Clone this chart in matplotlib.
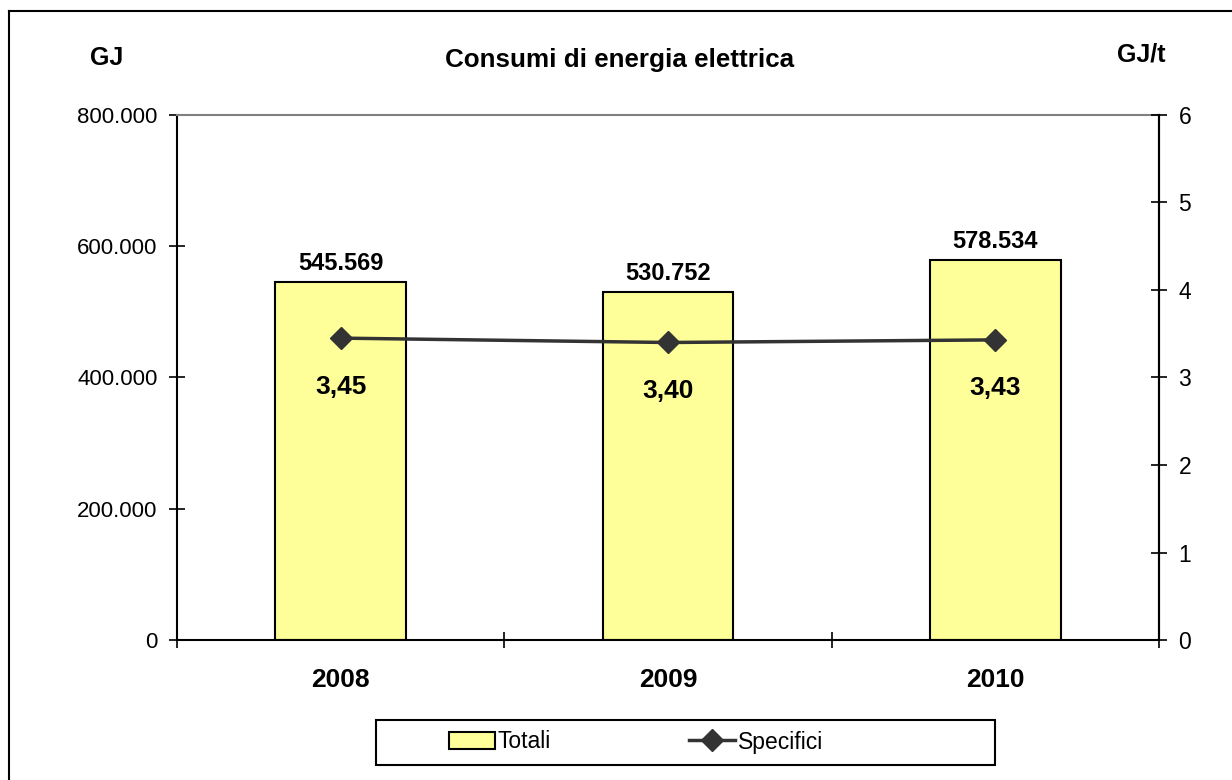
import matplotlib.pyplot as plt
from matplotlib.patches import Rectangle
from matplotlib.lines import Line2D

plt.rcParams['font.family'] = ['Liberation Sans', 'DejaVu Sans']

# Dati
anni = ["2008", "2009", "2010"]
totali = [545569, 530752, 578534]      # GJ
specifici = [3.45, 3.40, 3.43]         # GJ/t

def fmt_migliaia(v):
    return f"{v:,.0f}".replace(",", ".")

def fmt_decimale(v):
    return f"{v:.2f}".replace(".", ",")

fig = plt.figure(figsize=(12.32, 7.80), dpi=100)
ax = fig.add_axes([177 / 1232, 1 - 640 / 780, (1159 - 177) / 1232, (640 - 115) / 780])

x = list(range(len(anni)))
bar_color = "#FFFF99"
line_color = "#333333"

ax.bar(x, totali, width=0.4, color=bar_color, edgecolor="black", linewidth=1.5, zorder=2)
ax.set_xlim(-0.5, len(anni) - 0.5)
ax.set_ylim(0, 800000)
ax.set_yticks(range(0, 800001, 200000))
ax.set_yticklabels([fmt_migliaia(v) for v in range(0, 800001, 200000)], fontsize=16)

# etichette valori totali
for xi, v in zip(x, totali):
    ax.annotate(fmt_migliaia(v), (xi, v), xytext=(0, 5), textcoords="offset points",
                ha="center", va="bottom", fontsize=17, fontweight="bold")

# tick di separazione categorie + etichette anni
ax.set_xticks([i - 0.5 for i in range(len(anni) + 1)])
ax.set_xticklabels([])
ax.set_xticks(x, minor=True)
ax.set_xticklabels(anni, minor=True, fontsize=19, fontweight="bold")
ax.tick_params(axis="x", which="major", direction="inout", length=12, width=1.2)
ax.tick_params(axis="x", which="minor", length=0, pad=20)
ax.tick_params(axis="y", direction="inout", length=12, width=1.2, pad=8)

for s in ["left", "bottom", "right"]:
    ax.spines[s].set_linewidth(1.5)
ax.spines["top"].set_color("#808080")
ax.spines["top"].set_linewidth(1.5)

# asse secondario
ax2 = ax.twinx()
ax2.plot(x, specifici, color=line_color, linewidth=2.5, marker="D", markersize=11, zorder=3)
ax2.set_ylim(0, 6)
ax2.set_yticks(range(0, 7))
ax2.tick_params(axis="y", direction="inout", length=12, width=1.2, pad=8, labelsize=16.5)
ax2.spines["right"].set_linewidth(1.5)
for s in ["top", "left", "bottom"]:
    ax2.spines[s].set_visible(False)

for xi, v in zip(x, specifici):
    ax2.annotate(fmt_decimale(v), (xi, v), xytext=(0, -35), textcoords="offset points",
                 ha="center", va="center", fontsize=19, fontweight="bold")

# titoli
fig.text(620 / 1232, 1 - 60 / 780, "Consumi di energia elettrica", ha="center", va="center",
         fontsize=18.7, fontweight="bold")
fig.text(107 / 1232, 1 - 58 / 780, "GJ", ha="center", va="center", fontsize=18, fontweight="bold")
fig.text(1141 / 1232, 1 - 55 / 780, "GJ/t", ha="center", va="center", fontsize=18, fontweight="bold")

# cornice esterna (solo lati superiore e sinistro visibili)
top_y = 1 - 11 / 780
left_x = 9 / 1232
fig.lines.append(Line2D([left_x, 1.0], [top_y, top_y], transform=fig.transFigure,
                        color="black", linewidth=1.5))
fig.lines.append(Line2D([left_x, left_x], [0.0, top_y], transform=fig.transFigure,
                        color="black", linewidth=1.5))

# legenda
fig.patches.append(Rectangle((376 / 1232, 1 - 765 / 780), (995 - 376) / 1232, 45 / 780,
                             transform=fig.transFigure, fill=False, edgecolor="black", linewidth=1.5))
handles = [
    Rectangle((0, 0), 1, 1, facecolor=bar_color, edgecolor="black", linewidth=1.5),
    Line2D([0], [0], color=line_color, linewidth=2.5, marker="D", markersize=11),
]
fig.legend(handles, ["Totali", "Specifici"], loc="center", bbox_to_anchor=(636 / 1232, 1 - 742 / 780),
           ncol=2, frameon=False, fontsize=16.5, handlelength=2.0, handletextpad=0.15,
           columnspacing=6.0)

fig.savefig("out.png", dpi=100)
